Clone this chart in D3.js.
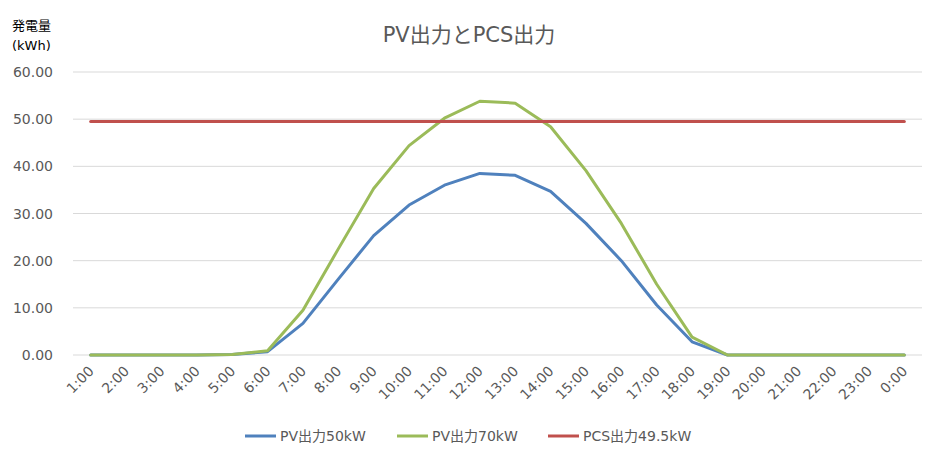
<!DOCTYPE html>
<html><head><meta charset="utf-8">
<script src="https://cdn.jsdelivr.net/npm/d3@7"></script>
<style>body{margin:0;background:#fff;}svg{display:block;font-family:"DejaVu Sans","Noto Sans CJK JP",sans-serif;}</style>
</head><body><svg id="c" width="940" height="460"></svg>
<script>
const hours = ["1:00","2:00","3:00","4:00","5:00","6:00","7:00","8:00","9:00","10:00","11:00","12:00","13:00","14:00","15:00","16:00","17:00","18:00","19:00","20:00","21:00","22:00","23:00","0:00"];
const pv50 = [0,0,0,0,0.1,0.7,6.7,16.1,25.3,31.8,36.0,38.5,38.1,34.7,27.9,20.0,10.6,2.8,0,0,0,0,0,0];
const pv70 = [0,0,0,0,0.1,0.9,9.5,22.5,35.3,44.4,50.2,53.8,53.4,48.4,39.1,27.9,15.0,3.8,0,0,0,0,0,0];
const pcs = hours.map(() => 49.5);
const yTicks = [0,10,20,30,40,50,60];
const seriesNames = ["PV出力50kW","PV出力70kW","PCS出力49.5kW"];
const colors = ["#4f81bd","#9bbb59","#c0504d"];

const svg = d3.select("#c");
const x = d3.scaleBand().domain(hours).range([73,922]);
const y = d3.scaleLinear().domain([0,60]).range([355,72]);
const cx = d => x(d) + x.bandwidth()/2;

// gridlines
svg.append("g").selectAll("line").data(yTicks).join("line")
  .attr("x1",73).attr("x2",922).attr("y1",d=>y(d)).attr("y2",d=>y(d))
  .attr("stroke","#d9d9d9").attr("stroke-width",1);

// y axis labels
svg.append("g").selectAll("text").data(yTicks).join("text")
  .attr("x",53).attr("y",d=>y(d)+5).attr("text-anchor","end")
  .attr("fill","#595959").attr("font-size",14).text(d=>d.toFixed(2));

// x labels
svg.append("g").selectAll("text").data(hours).join("text")
  .attr("transform",d=>`translate(${cx(d)+4},${372}) rotate(-45)`)
  .attr("text-anchor","end").attr("fill","#595959").attr("font-size",14).text(d=>d);

// lines
const line = d3.line().x((d,i)=>cx(hours[i])).y(d=>y(d));
[pv50,pv70,pcs].forEach((s,k)=>{
  svg.append("path").attr("d",line(s)).attr("fill","none")
    .attr("stroke",colors[k]).attr("stroke-width",3).attr("stroke-linejoin","round").attr("stroke-linecap","round");
});

// title
svg.append("text").attr("x",469).attr("y",42).attr("text-anchor","middle")
  .attr("fill","#595959").attr("font-size",21).text("PV出力とPCS出力");

// y axis title
svg.append("text").attr("x",12).attr("y",30).attr("fill","#000").attr("font-size",13).text("発電量");
svg.append("text").attr("x",12).attr("y",50).attr("fill","#000").attr("font-size",13).text("(kWh)");

// legend
const lx = [245,397,548];
seriesNames.forEach((n,k)=>{
  svg.append("line").attr("x1",lx[k]).attr("x2",lx[k]+31).attr("y1",436).attr("y2",436)
    .attr("stroke",colors[k]).attr("stroke-width",3);
  svg.append("text").attr("x",lx[k]+35).attr("y",441).attr("fill","#595959").attr("font-size",14).text(n);
});
</script></body></html>
